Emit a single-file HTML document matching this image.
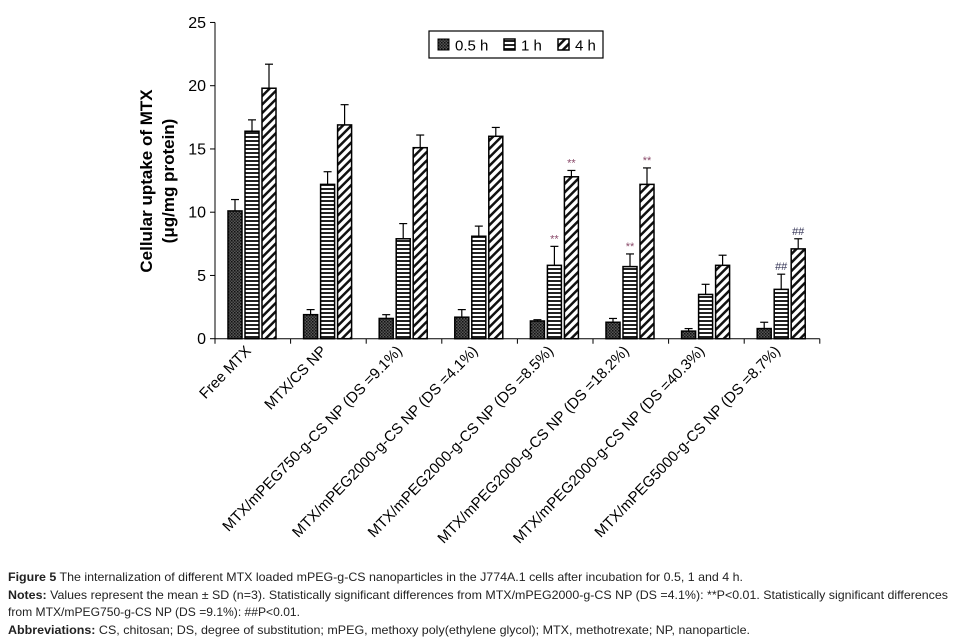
<!DOCTYPE html>
<html><head><meta charset="utf-8"><style>
body{margin:0;background:#fff;width:956px;height:642px;overflow:hidden}
svg{display:block;font-family:"Liberation Sans",sans-serif}
</style></head><body>
<svg id="chart" width="956" height="642" viewBox="0 0 956 642">
<defs>
<pattern id="p05" patternUnits="userSpaceOnUse" width="3" height="3"><rect width="3" height="3" fill="#555"/><rect width="1.5" height="1.5" fill="#111"/><rect x="1.5" y="1.5" width="1.5" height="1.5" fill="#222"/></pattern>
<pattern id="p1" patternUnits="userSpaceOnUse" width="4" height="4"><rect width="4" height="4" fill="#fff"/><rect width="4" height="2" fill="#222"/></pattern>
<pattern id="p4" patternUnits="userSpaceOnUse" width="6" height="6" patternTransform="rotate(45)"><rect width="6" height="6" fill="#fff"/><rect width="2.5" height="6" fill="#111"/></pattern>
</defs>
<g id="plot"></g>
<g>
<rect x="429" y="31" width="174" height="27" fill="#fff" stroke="#000" stroke-width="1.2"/>
<rect x="438" y="39" width="11" height="11" fill="url(#p05)" stroke="#000"/>
<text x="455" y="50.5" font-size="15">0.5 h</text>
<rect x="504" y="39" width="11" height="11" fill="url(#p1)" stroke="#000" stroke-width="1.5"/>
<text x="521" y="50.5" font-size="15">1 h</text>
<rect x="558" y="39" width="11" height="11" fill="url(#p4)" stroke="#000" stroke-width="1.5"/>
<text x="575" y="50.5" font-size="15">4 h</text>
</g>
<g font-weight="bold" font-size="17" text-anchor="middle">
<text transform="translate(152,181) rotate(-90)">Cellular uptake of MTX</text>
<text transform="translate(174,181) rotate(-90)">(μg/mg protein)</text>
</g>
<g font-size="12" fill="#222">
<text x="8" y="581" textLength="735" lengthAdjust="spacingAndGlyphs"><tspan font-weight="bold">Figure 5</tspan> The internalization of different MTX loaded mPEG-g-CS nanoparticles in the J774A.1 cells after incubation for 0.5, 1 and 4 h.</text>
<text x="8" y="599" textLength="940" lengthAdjust="spacingAndGlyphs"><tspan font-weight="bold">Notes:</tspan> Values represent the mean ± SD (n=3). Statistically significant differences from MTX/mPEG2000-g-CS NP (DS =4.1%): **P&lt;0.01. Statistically significant differences</text>
<text x="8" y="616" textLength="292" lengthAdjust="spacingAndGlyphs">from MTX/mPEG750-g-CS NP (DS =9.1%): ##P&lt;0.01.</text>
<text x="8" y="634" textLength="742" lengthAdjust="spacingAndGlyphs"><tspan font-weight="bold">Abbreviations:</tspan> CS, chitosan; DS, degree of substitution; mPEG, methoxy poly(ethylene glycol); MTX, methotrexate; NP, nanoparticle.</text>
</g>
</svg>
<script>
const categories=["Free MTX","MTX/CS NP","MTX/mPEG750-g-CS NP (DS =9.1%)","MTX/mPEG2000-g-CS NP (DS =4.1%)","MTX/mPEG2000-g-CS NP (DS =8.5%)","MTX/mPEG2000-g-CS NP (DS =18.2%)","MTX/mPEG2000-g-CS NP (DS =40.3%)","MTX/mPEG5000-g-CS NP (DS =8.7%)"];
const v05=[10.1,1.9,1.6,1.7,1.4,1.3,0.6,0.8];
const e05=[0.9,0.4,0.3,0.6,0.1,0.3,0.2,0.5];
const v1=[16.4,12.2,7.9,8.1,5.8,5.7,3.5,3.9];
const e1=[0.9,1.0,1.2,0.8,1.5,1.0,0.8,1.2];
const v4=[19.8,16.9,15.1,16.0,12.8,12.2,5.8,7.1];
const e4=[1.9,1.6,1.0,0.7,0.5,1.3,0.8,0.8];
const ann1=["","","","","**","**","","##"];
const ann4=["","","","","**","**","","##"];
const yTicks=[0,5,10,15,20,25];
const NS="http://www.w3.org/2000/svg";
const g=document.getElementById('plot');
const X0=215,GW=75.6,Y0=338.7,K=12.65;
const y=v=>Y0-v*K;
function mk(t,a,p){const e=document.createElementNS(NS,t);for(const k in a)e.setAttribute(k,a[k]);(p||g).appendChild(e);return e;}
const ax=mk('g',{});


mk('line',{x1:X0,y1:y(25),x2:X0,y2:Y0,stroke:'#000','stroke-width':1},ax);
mk('line',{x1:X0,y1:Y0,x2:X0+GW*8,y2:Y0,stroke:'#000','stroke-width':1},ax);
yTicks.forEach(t=>{
 mk('line',{x1:X0-5,y1:y(t),x2:X0,y2:y(t),stroke:'#000'},ax);
 const tx=mk('text',{x:X0-9,y:y(t)+5.5,'font-size':16,'text-anchor':'end'},ax);tx.textContent=t;
 
 
});
for(let i=0;i<=8;i++)mk('line',{x1:X0+GW*i,y1:Y0,x2:X0+GW*i,y2:Y0+5,stroke:'#000'},ax);
const series=[[v05,e05,'url(#p05)',null],[v1,e1,'url(#p1)',ann1],[v4,e4,'url(#p4)',ann4]];
categories.forEach((c,i)=>{
 const gx=X0+GW*i;
 series.forEach((s,j)=>{
  const bx=gx+13+j*17,bw=14,v=s[0][i],e=s[1][i],cx=bx+bw/2;
  const r=mk('rect',{x:bx,y:y(v),width:bw,height:Y0-y(v),fill:s[2],stroke:'#000','stroke-width':1.5});
  
  
  mk('line',{x1:cx,y1:y(v),x2:cx,y2:y(v+e),stroke:'#000','stroke-width':1.2});
  mk('line',{x1:cx-4,y1:y(v+e),x2:cx+4,y2:y(v+e),stroke:'#000','stroke-width':1.2});
  if(s[3]&&s[3][i]){const a=mk('text',{x:cx,y:y(v+e)-4,'font-size':11,'text-anchor':'middle',fill:s[3][i]=='**'?'#8a4a6a':'#335'});a.textContent=s[3][i];
   
   }
 });
 const lx=gx+GW/2-1,ly=Y0+13;
 const t=mk('text',{x:lx,y:ly,'font-size':15,'text-anchor':'end',transform:`rotate(-46 ${lx} ${ly})`});
 t.textContent=c;
 
 
});
</script>
</body></html>
